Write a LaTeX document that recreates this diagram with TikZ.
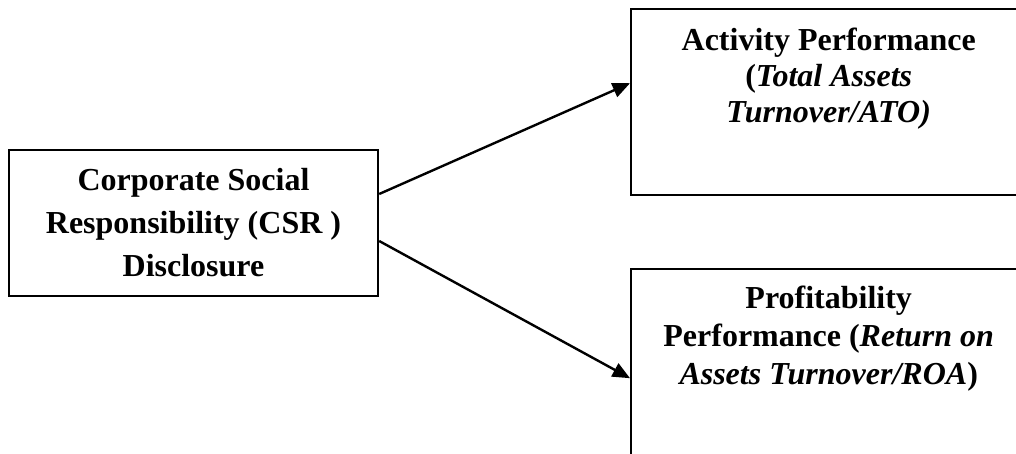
\documentclass[tikz,border=0pt]{standalone}
\usepackage{fontspec}
\setmainfont{Liberation Serif}
\usetikzlibrary{arrows.meta}

\begin{document}
\begin{tikzpicture}[x=0.75pt,y=-0.75pt,
			box/.style={draw, line width=1.8pt, inner sep=0pt},
			txt/.style={align=center, inner sep=0pt, font=\bfseries\fontsize{24}{#1}\selectfont},
			arr/.style={line width=1.8pt, -{Triangle[length=13pt,width=11pt]}}]
			\useasboundingbox (0,0) rectangle (1016,453);
			\clip (0,0) rectangle (1016,453);
			
			\node[box, txt=32.25, minimum width=276.75pt, minimum height=109.5pt] (csr) at (193.5,223) {Corporate Social\\ Responsibility (CSR )\\ Disclosure};
			
			\node[box, minimum width=296.25pt, minimum height=139.5pt, anchor=north west] (ato) at (630,8) {};
			\node[txt=27, anchor=north] (atotxt) at ([yshift=-15pt]ato.north) {Activity Performance\\ (\textit{Total Assets}\\ \textit{Turnover/ATO)}};
			
			\node[box, minimum width=296.25pt, minimum height=139.5pt, anchor=north west] (roa) at (630,268) {};
			\node[txt=28.5, anchor=north] (roatxt) at ([yshift=-13.5pt]roa.north) {Profitability\\ Performance (\textit{Return on}\\ \textit{Assets Turnover/ROA})};
			
			\draw[arr] ([yshift=21.75pt]csr.east) -- ([yshift=14.25pt]ato.west);
			\draw[arr] ([yshift=-13.5pt]csr.east) -- ([yshift=-12pt]roa.west);
		\end{tikzpicture}
\end{document}
